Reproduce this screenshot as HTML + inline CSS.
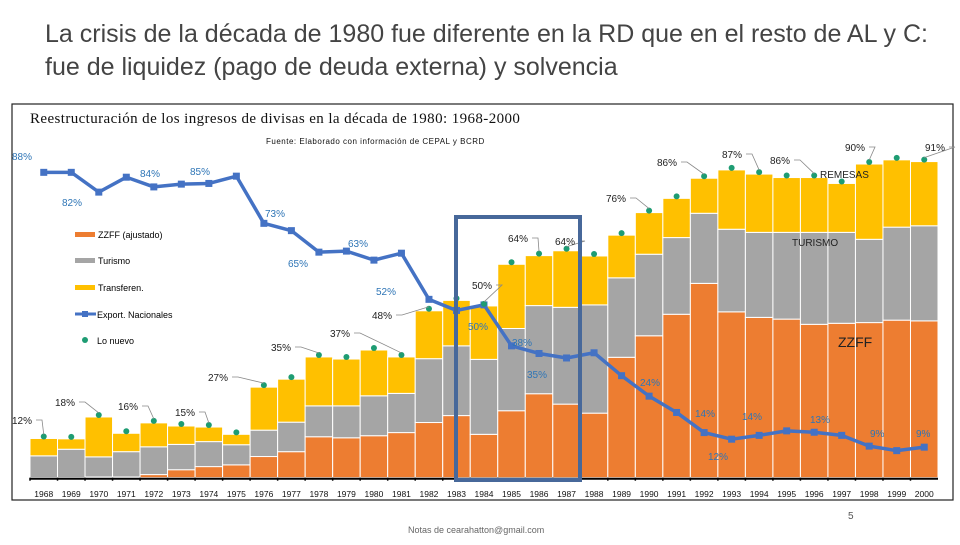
<!DOCTYPE html>
<html><head><meta charset="utf-8"><style>
body{margin:0;background:#fff;width:960px;height:540px;overflow:hidden;font-family:"Liberation Sans",sans-serif}
</style></head><body>
<svg id="s" width="960" height="540" viewBox="0 0 960 540" xmlns="http://www.w3.org/2000/svg">
<text x="45" y="42" font-size="25" fill="#444" font-family="Liberation Sans,sans-serif">La crisis de la década de 1980 fue diferente en la RD que en el resto de AL y C:</text>
<text x="45" y="75" font-size="25" fill="#444" font-family="Liberation Sans,sans-serif">fue de liquidez (pago de deuda externa) y solvencia</text>
<rect x="12" y="104" width="941" height="396" fill="none" stroke="#222" stroke-width="1.2"/>
<text x="30" y="123" font-size="15" font-family="Liberation Serif,serif" fill="#111" letter-spacing="0.4">Reestructuración de los ingresos de divisas en la década de 1980: 1968-2000</text>
<text x="266" y="144" font-size="8" fill="#111" letter-spacing="0.5">Fuente: Elaborado con información de CEPAL y BCRD</text>
<g id="bars"></g><g id="line"></g><g id="dots"></g><g id="labels"></g><g id="axis"></g>
<g>
<rect x="75" y="232" width="20" height="5" fill="#ed7d31"/><text x="98" y="238" font-size="9">ZZFF (ajustado)</text>
<rect x="75" y="258" width="20" height="5" fill="#a5a5a5"/><text x="98" y="264" font-size="9">Turismo</text>
<rect x="75" y="285" width="20" height="5" fill="#ffc000"/><text x="98" y="291" font-size="9">Transferen.</text>
<line x1="75" y1="314" x2="96" y2="314" stroke="#4472c4" stroke-width="3"/><rect x="82" y="311" width="6" height="6" fill="#4472c4"/><text x="97" y="318" font-size="9">Export. Nacionales</text>
<circle cx="85" cy="340" r="3" fill="#1e9c73"/><text x="97" y="344" font-size="9">Lo nuevo</text>
</g>
<text x="820" y="178" font-size="10" fill="#222">REMESAS</text>
<text x="792" y="246" font-size="10" fill="#222">TURISMO</text>
<text x="838" y="347" font-size="14" fill="#222">ZZFF</text>
<rect x="456" y="217" width="124" height="263" fill="none" stroke="#47689a" stroke-width="4"/>
<text x="848" y="519" font-size="10" fill="#555">5</text>
<text x="408" y="533" font-size="9" fill="#666">Notas de cearahatton@gmail.com</text>
</svg>
<script>
const years=[1968,1969,1970,1971,1972,1973,1974,1975,1976,1977,1978,1979,1980,1981,1982,1983,1984,1985,1986,1987,1988,1989,1990,1991,1992,1993,1994,1995,1996,1997,1998,1999,2000];
const zzff=[0,0,0.2,0.2,0.9,2.3,3.2,3.7,6.1,7.5,11.8,11.5,12.1,13,15.9,17.9,12.5,19.3,24.2,21.2,18.6,34.7,40.9,47.1,56,47.8,46.2,45.7,44.2,44.5,44.7,45.4,45.2];
const turismo=[6.3,8.2,5.8,7.3,8,7.3,7.2,5.8,7.6,8.5,8.9,9.2,11.5,11.3,18.4,20.1,21.6,23.7,25.4,27.9,31.2,22.9,23.5,22.1,20.2,23.8,24.5,25,26.5,26.2,24,26.8,27.4];
const transfer=[5,3,11.5,5.3,6.9,5.3,4.2,3,12.4,12.4,14.1,13.5,13.2,10.5,13.8,13.1,15.4,18.5,14.4,16.3,14.1,12.3,12,11.3,10.1,17.1,16.8,15.8,15.8,14.1,21.7,19.4,18.5];
const exportNac=[88,88,82.3,86.6,83.8,84.6,84.8,86.9,73.3,71.2,65,65.3,62.7,64.7,51.4,48.2,49.8,38,35.8,34.5,36,29.4,23.5,18.8,13,11.1,12.2,13.5,13.1,12.2,9.1,7.8,8.8];
const nuevoLabels=[[0,"12%",12,424],[2,"18%",55,406],[4,"16%",118,410],[6,"15%",175,416],[8,"27%",208,381],[10,"35%",271,351],[13,"37%",330,337],[14,"48%",372,319],[16,"50%",472,289],[18,"64%",508,242],[19,"64%",555,245],[22,"76%",606,202],[24,"86%",657,166],[26,"87%",722,158],[28,"86%",770,164],[30,"90%",845,151],[32,"91%",925,151]];
const exportLabels=[[0,"88%",12,160],[2,"82%",62,206],[4,"84%",140,177],[6,"85%",190,175],[8,"73%",265,217],[10,"65%",288,267],[12,"63%",348,247],[14,"52%",376,295],[16,"50%",468,330],[17,"38%",512,346],[19,"35%",527,378],[22,"24%",640,386],[24,"14%",695,417],[25,"12%",708,460],[27,"14%",742,420],[29,"13%",810,423],[31,"9%",870,437],[32,"9%",916,437]];
const X0=30,X1=938,Y0=477.7,K=3.47;
const bw=(X1-X0)/years.length;
const xL=i=>X0+i*bw, xC=i=>X0+(i+0.5)*bw, y=v=>Y0-v*K;
const NS="http://www.w3.org/2000/svg";
function mk(tag,parent,attrs){const e=document.createElementNS(NS,tag);for(const k in attrs)e.setAttribute(k,attrs[k]);parent.appendChild(e);return e;}
const gb=document.getElementById('bars'),gl=document.getElementById('line'),gd=document.getElementById('dots'),gt=document.getElementById('labels'),ga=document.getElementById('axis');
years.forEach((yr,i)=>{
 const segs=[[zzff[i],'#ed7d31','zzff'],[turismo[i],'#a5a5a5','turismo'],[transfer[i],'#ffc000','transfer']];
 let base=0;
 segs.forEach(s=>{
  const r=mk('rect',gb,{x:xL(i),y:y(base+s[0]),width:bw,height:s[0]*K,fill:s[1],stroke:'#fff','stroke-width':1});
  
  
  base+=s[0];
 });
 const c=mk('circle',gd,{cx:xC(i),cy:y(base)-2,r:3,fill:'#1e9c73'});
 
 
 const t=mk('text',ga,{x:xC(i),y:497,'font-size':8.5,'text-anchor':'middle',fill:'#111'});
 t.textContent=yr;
 
 
 mk('line',ga,{x1:xL(i),y1:Y0,x2:xL(i),y2:Y0+3,stroke:'#000','stroke-width':1.5});
});
const ax=mk('line',ga,{x1:X0,y1:Y0+1,x2:X1,y2:Y0+1,stroke:'#000','stroke-width':2});


const pl=mk('polyline',gl,{points:exportNac.map((v,i)=>xC(i)+','+y(v)).join(' '),fill:'none',stroke:'#4472c4','stroke-width':3.5,'stroke-linejoin':'round'});


exportNac.forEach((v,i)=>{
 const m=mk('rect',gl,{x:xC(i)-3.5,y:y(v)-3.5,width:7,height:7,fill:'#4472c4'});
 
 
});
nuevoLabels.forEach(l=>{
 const i=l[0];const tot=zzff[i]+turismo[i]+transfer[i];
 mk('polyline',gt,{points:(l[2]+24)+','+(l[3]-4)+' '+(l[2]+30)+','+(l[3]-4)+' '+xC(i)+','+(y(tot)-4),fill:'none',stroke:'#888','stroke-width':0.8});
 const t=mk('text',gt,{x:l[2],y:l[3],'font-size':10,fill:'#222'});
 t.textContent=l[1];
 
 
});
exportLabels.forEach(l=>{
 const i=l[0];
 const t=mk('text',gt,{x:l[2],y:l[3],'font-size':10,fill:'#2e75b6'});
 t.textContent=l[1];
 
 
});
</script>
</body></html>
